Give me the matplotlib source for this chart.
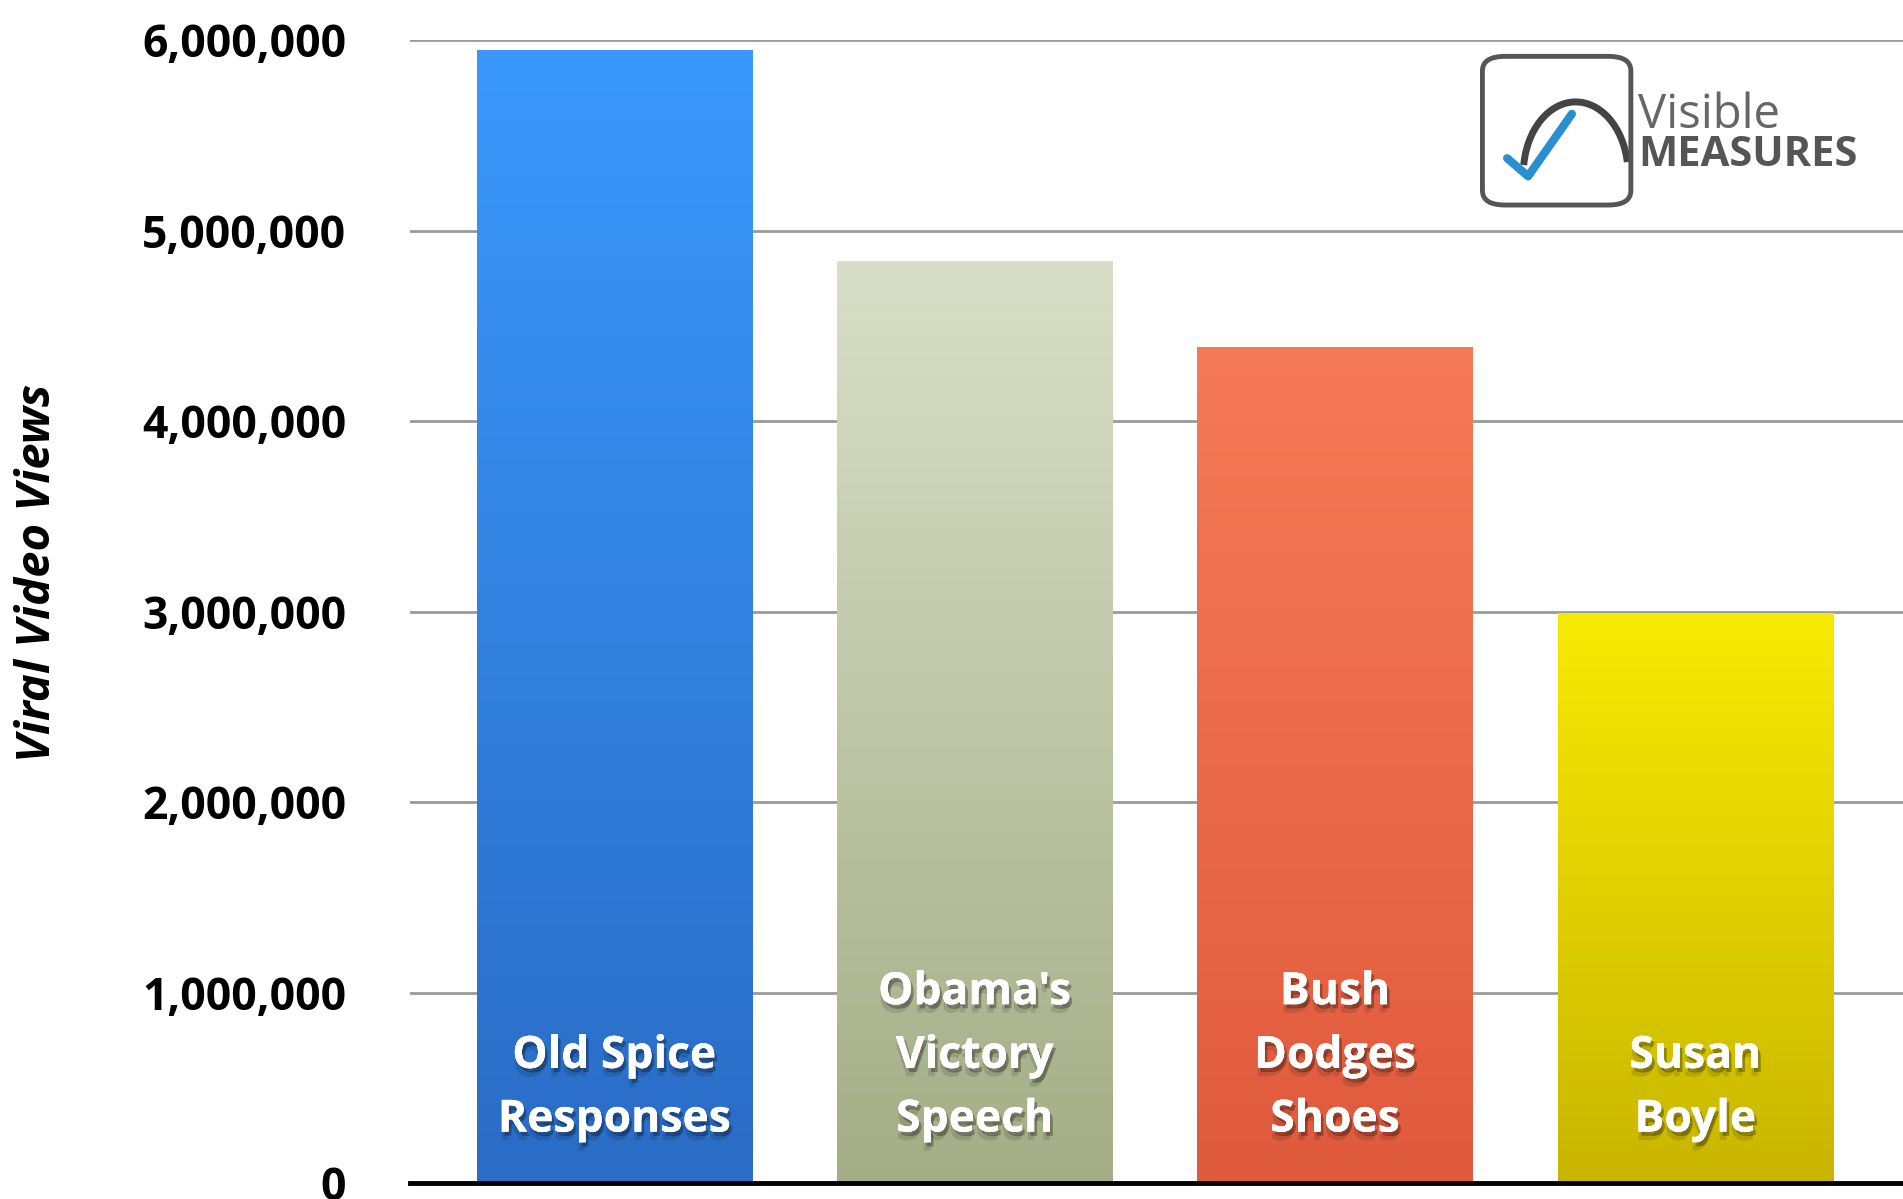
import numpy as np
import matplotlib
matplotlib.use("Agg")
import matplotlib.pyplot as plt
import matplotlib.patheffects as pe
from matplotlib.patches import FancyBboxPatch, Arc
from matplotlib.lines import Line2D
from matplotlib.ticker import FuncFormatter

# data
categories = ["Old Spice\nResponses", "Obama's\nVictory\nSpeech", "Bush\nDodges\nShoes", "Susan\nBoyle"]
views = [5950000, 4840000, 4390000, 2990000]
yticks = [0, 1000000, 2000000, 3000000, 4000000, 5000000, 6000000]

# gradient colours (top, bottom) per bar
grad_top = ["#3a98fc", "#d8dfc8", "#f57a56", "#f7ea02"]
grad_bottom = ["#2a6cc6", "#a3ae86", "#e05a3c", "#c8b600"]

fig = plt.figure(figsize=(19.03, 11.99), dpi=100)
ax = fig.add_axes([0.2155, 0.0133, 0.7845, 0.9533])

x = np.arange(len(categories))
bars = ax.bar(x, views, width=0.764, color=grad_top, zorder=2)

# vertical gradient inside each bar
for b, c_top, c_bot in zip(bars, grad_top, grad_bottom):
    top = np.array(matplotlib.colors.to_rgb(c_top))
    bot = np.array(matplotlib.colors.to_rgb(c_bot))
    t = np.linspace(0, 1, 256)[:, None]
    img = (top * (1 - t) + bot * t)[:, None, :]
    im = ax.imshow(img, extent=[b.get_x(), b.get_x() + b.get_width(), 0, b.get_height()],
                   aspect="auto", zorder=3, origin="upper")
    im.set_clip_path(b)

# labels inside bars, with a soft dark shadow
shadow = [pe.withSimplePatchShadow(offset=(0, -6), shadow_rgbFace="black", alpha=0.12),
          pe.withSimplePatchShadow(offset=(2, -3), shadow_rgbFace="black", alpha=0.3),
          pe.Normal()]
for xi, lab in zip(x, categories):
    ax.text(xi, 270000, lab, ha="center", va="baseline", color="white",
            fontsize=32, fontweight="bold", family="Open Sans", linespacing=1.55,
            zorder=5, path_effects=shadow)

ax.set_xlim(-0.567, 3.576)
ax.set_ylim(0, 6000000)
ax.set_yticks(yticks)
ax.yaxis.set_major_formatter(FuncFormatter(lambda v, p: f"{int(v):,}"))
ax.tick_params(axis="y", length=0, pad=46, labelsize=32)
for t in ax.get_yticklabels():
    t.set_fontweight("bold")
    t.set_family("Open Sans")
ax.set_xticks([])

ax.grid(axis="y", color="#9a9a9a", linewidth=2, zorder=0)
ax.set_axisbelow(True)
for s in ["top", "right", "left"]:
    ax.spines[s].set_visible(False)
ax.spines["bottom"].set_linewidth(3.5)
ax.spines["bottom"].set_color("black")
ax.spines["bottom"].set_zorder(6)

ax.set_ylabel("Viral Video Views", fontsize=34, fontweight="bold", fontstyle="italic",
              family="Open Sans", va="center")
ax.yaxis.set_label_coords(-0.2495, 0.534)

# logo in the top right corner
logo = FancyBboxPatch((0.782, 0.832), 0.072, 0.118, boxstyle="round,pad=0.003,rounding_size=0.012",
                      transform=fig.transFigure, fill=False, edgecolor="#555555", linewidth=3.5)
fig.patches.append(logo)
fig.add_artist(Arc((0.828, 0.855), 0.055, 0.12, theta1=20, theta2=165, transform=fig.transFigure,
                   color="#444444", linewidth=5))
fig.add_artist(Line2D([0.792, 0.803, 0.826], [0.868, 0.853, 0.905], transform=fig.transFigure,
                      color="#2a8fd0", linewidth=6, solid_capstyle="round"))
fig.text(0.861, 0.904, "Visible", fontsize=34, color="#666666", family="Open Sans",
         ha="left", va="center")
fig.text(0.861, 0.870, "MEASURES", fontsize=30, color="#555555", family="Open Sans",
         fontweight="bold", ha="left", va="center")

fig.savefig("out.png", dpi=100)
